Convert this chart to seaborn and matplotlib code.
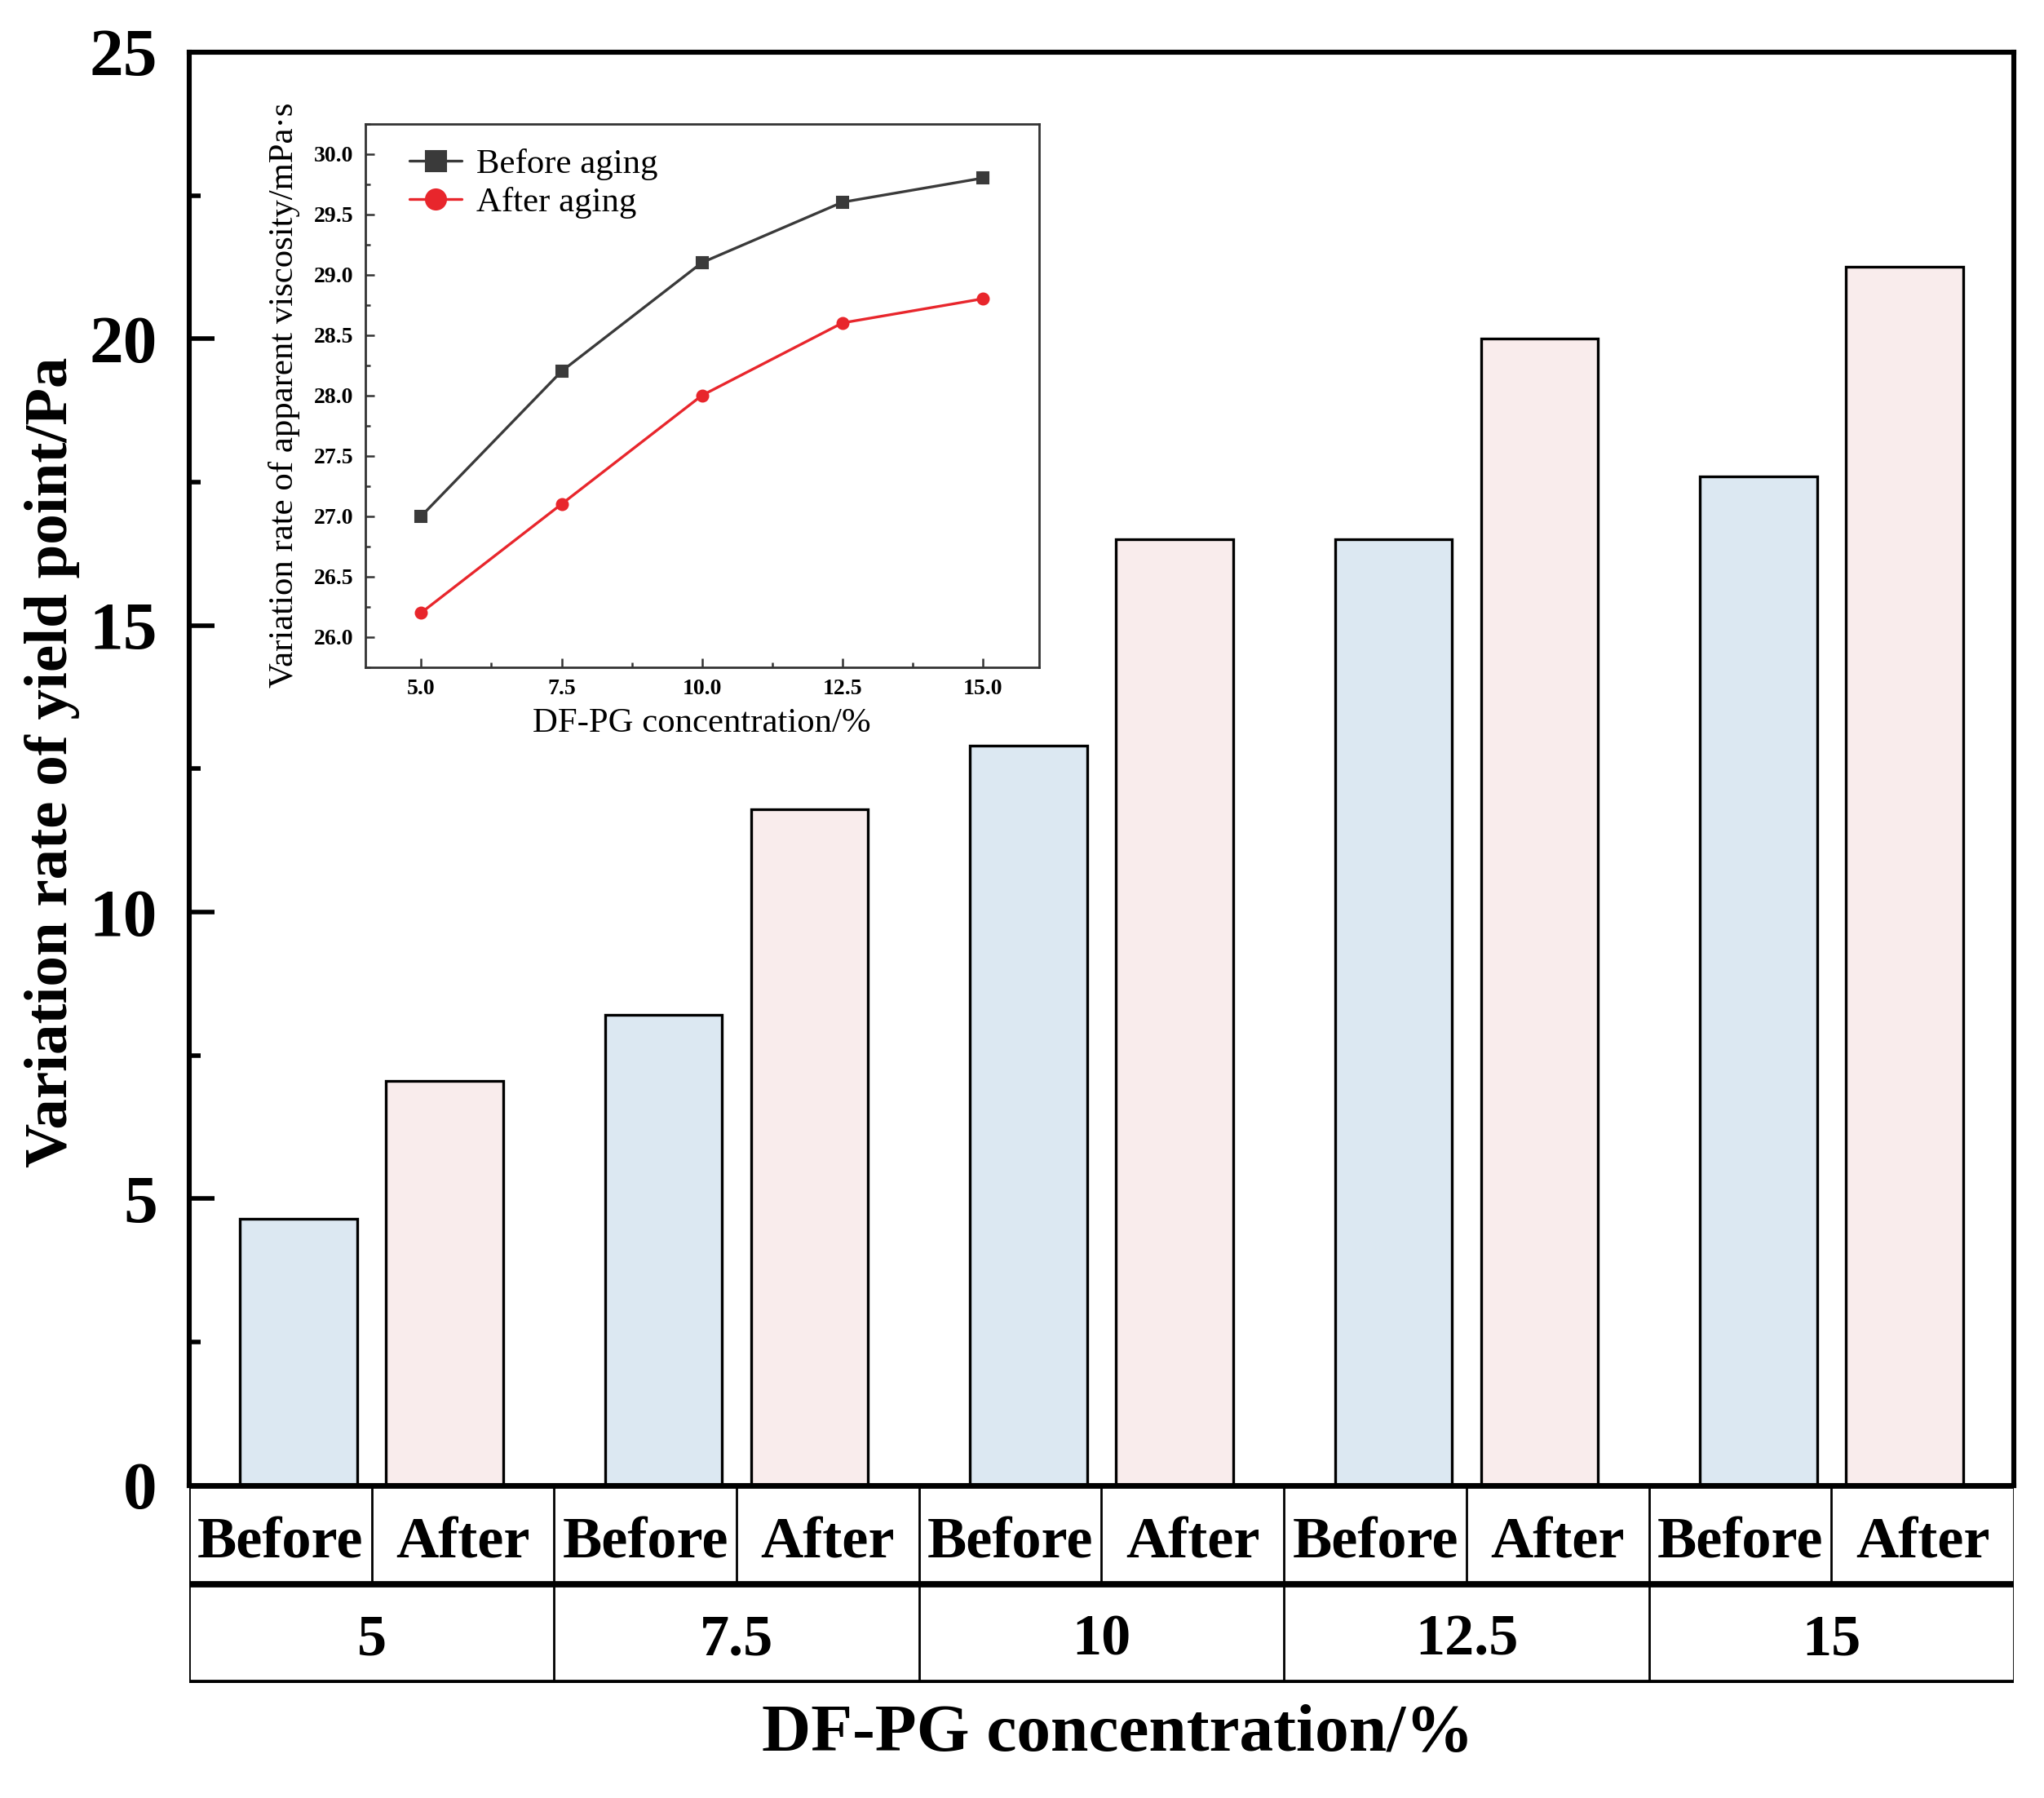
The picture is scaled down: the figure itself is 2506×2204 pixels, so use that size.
import numpy as np
import pandas as pd
import seaborn as sns
import matplotlib.pyplot as plt
from matplotlib.ticker import MultipleLocator

# data
conc_labels = ["5", "7.5", "10", "12.5", "15"]
yield_before = [4.65, 8.2, 12.9, 16.5, 17.6]
yield_after = [7.05, 11.8, 16.5, 20.0, 21.25]
states = ["Before", "After"]

visc_conc = [5.0, 7.5, 10.0, 12.5, 15.0]
visc_before = [27.0, 28.2, 29.1, 29.6, 29.8]
visc_after = [26.2, 27.1, 28.0, 28.6, 28.8]

sns.set_style("ticks")
plt.rcParams["font.family"] = ["Liberation Serif", "DejaVu Serif"]
plt.rcParams["text.color"] = "black"
plt.rcParams["axes.labelcolor"] = "black"
plt.rcParams["xtick.color"] = "black"
plt.rcParams["ytick.color"] = "black"

df = pd.DataFrame({
    "conc": conc_labels * 2,
    "state": [states[0]] * len(conc_labels) + [states[1]] * len(conc_labels),
    "value": yield_before + yield_after,
})

fig = plt.figure(figsize=(12.53, 11.02), dpi=200)
ax = fig.add_axes([0.0925, 0.1739, 0.8928, 0.7971])

sns.barplot(data=df, x="conc", y="value", hue="state", order=conc_labels,
            hue_order=states, palette=["#dce8f2", "#f9ecec"], saturation=1,
            width=0.8, gap=0.2, edgecolor="black", linewidth=1.2, ax=ax,
            legend=False)

n = len(conc_labels)
ax.set_xlim(-0.5, n - 0.5)
ax.set_ylim(0, 25)
ax.yaxis.set_major_locator(MultipleLocator(5))
ax.yaxis.set_minor_locator(MultipleLocator(2.5))
ax.tick_params(axis="y", which="major", direction="in", length=11, width=2,
               labelsize=30, pad=14)
ax.tick_params(axis="y", which="minor", direction="in", length=5, width=2)
ax.tick_params(axis="x", which="both", bottom=False, labelbottom=False)
for lab in ax.get_yticklabels():
    lab.set_fontweight("bold")
for s in ax.spines.values():
    s.set_linewidth(2.2)
    s.set_color("black")
ax.set_xlabel("")
ax.set_ylabel("")

# table under the bars
tab = fig.add_axes([0.0925, 0.0638, 0.8928, 0.1101], sharex=ax)
tab.set_ylim(0, 2)
tab.set_xlim(-0.5, n - 0.5)
tab.axis("off")
edges = np.arange(n + 1) - 0.5
tab.hlines([0, 1, 2], -0.5, n - 0.5, color="black", linewidth=2.8)
tab.vlines(np.arange(2 * n + 1) * 0.5 - 0.5, 1, 2, color="black", linewidth=1.0)
tab.vlines(edges, 0, 1, color="black", linewidth=1.0)
for i, c in enumerate(conc_labels):
    tab.text(i - 0.25, 1.41, states[0], ha="center", va="center",
             fontsize=26, fontweight="bold")
    tab.text(i + 0.25, 1.41, states[1], ha="center", va="center",
             fontsize=26, fontweight="bold")
    tab.text(i, 0.43, c, ha="center", va="center", fontsize=26, fontweight="bold")

fig.text(0.547, 0.035, "DF-PG concentration/%", ha="center", va="center",
         fontsize=30, fontweight="bold")
fig.text(0.0255, 0.576, "Variation rate of yield point/Pa", ha="center",
         va="center", rotation=90, fontsize=27, fontweight="bold")

# inset: apparent viscosity
axin = fig.add_axes([0.1786, 0.629, 0.3297, 0.3022])
sns.lineplot(x=visc_conc, y=visc_before, marker="s", markersize=5, color="#3a3a3a",
             markeredgecolor="#3a3a3a", linewidth=1.2, label="Before aging", ax=axin)
sns.lineplot(x=visc_conc, y=visc_after, marker="o", markersize=5, color="#e8262c",
             markeredgecolor="#e8262c", linewidth=1.2, label="After aging", ax=axin)
axin.set_xlim(4.0, 16.0)
axin.set_ylim(25.75, 30.25)
axin.xaxis.set_major_locator(MultipleLocator(2.5))
axin.xaxis.set_minor_locator(MultipleLocator(1.25))
axin.yaxis.set_major_locator(MultipleLocator(0.5))
axin.yaxis.set_minor_locator(MultipleLocator(0.25))
axin.xaxis.set_major_formatter(plt.FormatStrFormatter("%.1f"))
axin.yaxis.set_major_formatter(plt.FormatStrFormatter("%.1f"))
axin.tick_params(which="major", direction="in", length=4, width=0.9,
                 labelsize=10, pad=5, color="#333333")
axin.tick_params(which="minor", direction="in", length=2.2, width=0.9, color="#333333")
for lab in axin.get_xticklabels() + axin.get_yticklabels():
    lab.set_fontweight("bold")
for s in axin.spines.values():
    s.set_linewidth(1.0)
    s.set_color("#333333")
axin.set_xlabel("DF-PG concentration/%", fontsize=15.4, labelpad=4)
axin.set_ylabel("Variation rate of apparent viscosity/mPa·s", fontsize=15.4, labelpad=6)
axin.legend(loc="upper left", frameon=False, fontsize=15.4, markerscale=1.8,
            handlelength=1.5, handletextpad=0.4, labelspacing=0.2,
            borderaxespad=0.3, bbox_to_anchor=(0.03, 1.0))

fig.savefig("out.png", dpi=200)
